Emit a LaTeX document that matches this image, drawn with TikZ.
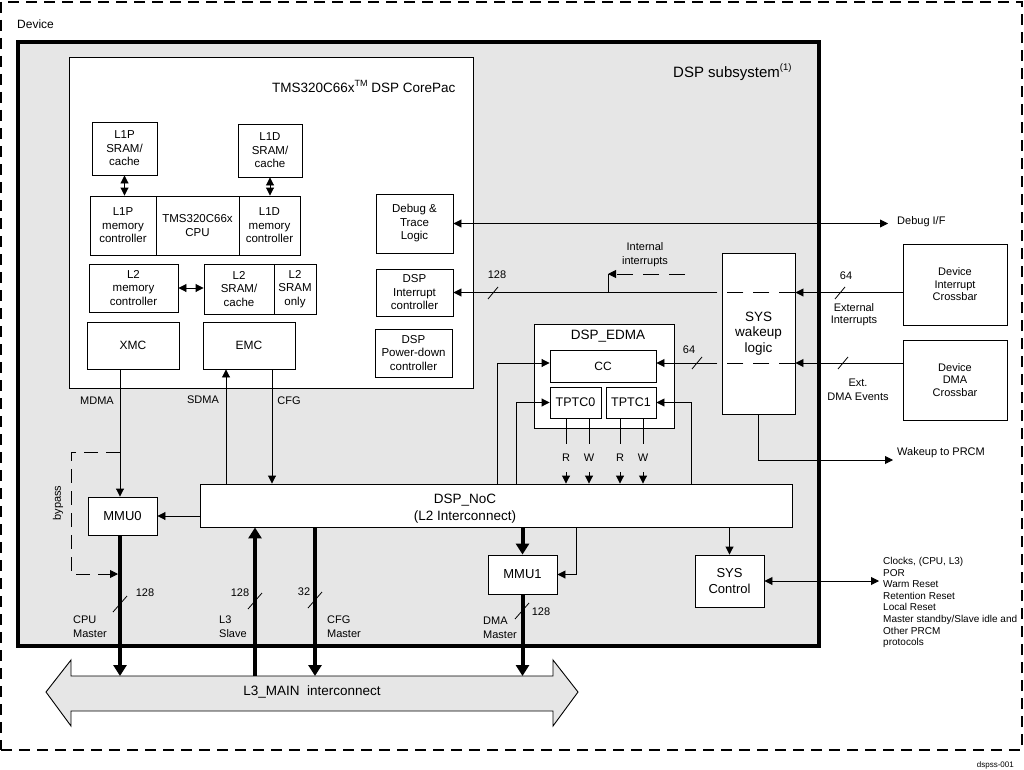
\documentclass[tikz,border=0pt]{standalone}
\usepackage{fontspec}
\setmainfont{Liberation Sans}
\usetikzlibrary{arrows.meta}
\definecolor{bggray}{RGB}{230,230,230}
\newcommand{\fz}[2]{\fontsize{#1}{#2}\selectfont}
\begin{document}
\begin{tikzpicture}[x=1pt,y=-1pt,
  box/.style={draw, fill=white, line width=0.9pt, inner sep=1pt, align=center, font=\fz{11.5}{13.5}},
  lbl/.style={inner sep=0pt, font=\fz{11}{13.5}},
  arr/.style={line width=0.9pt, -{Triangle[length=8pt,width=8pt]}},
  darr/.style={line width=0.9pt, {Triangle[length=8pt,width=8pt]}-{Triangle[length=8pt,width=8pt]}},
  ln/.style={line width=0.9pt},
  bus/.style={line width=4pt, -{Triangle[length=11pt,width=13pt]}},
  slash/.style={line width=0.8pt},
  ldash/.style={dash pattern=on 16pt off 10pt},
  sz/.style 2 args={minimum width=#1pt, minimum height=#2pt},
]
\useasboundingbox (0,0) rectangle (1024,770);
% frames
\node[draw, dash pattern=on 11pt off 7pt, line width=1.2pt, sz={1021}{748}, inner sep=0] (device) at (511.5,376) {};
\node[draw, line width=4pt, fill=bggray, sz={801}{604}, inner sep=0] (dsp) at (418.5,344) {};
\node[anchor=west, inner sep=0, font=\fz{12}{14}] (devlbl) at (17,24) {Device};
\node[anchor=west, inner sep=0, font=\fz{15}{17}] (dsplbl) at (673,72) {DSP subsystem\raisebox{7pt}{\fz{9.5}{10}(1)}};
\node[draw, fill=white, line width=0.9pt, sz={404}{331}, inner sep=0] (corepac) at (271,222.5) {};
\node[anchor=west, inner sep=0, font=\fz{13.5}{15}] (cptitle) at (272,86) {TMS320C66x\raisebox{6pt}{\fz{9}{9}TM} DSP CorePac};
% CorePac content
\node[box, sz={65}{53}] (l1ps) at (124.5,148.5) {L1P\\SRAM/\\cache};
\node[box, sz={64}{53}] (l1ds) at (270,150.5) {L1D\\SRAM/\\cache};
\node[box, sz={66}{59}] (l1pm) at (123,225.5) {L1P\\memory\\controller};
\node[box, sz={83}{59}] (cpu) at (197.5,225.5) {TMS320C66x\\CPU};
\node[box, sz={61}{59}] (l1dm) at (269.5,225.5) {L1D\\memory\\controller};
\node[box, sz={77}{59}] (dbg) at (414.5,223.5) {Debug \&\\Trace\\Logic};
\node[box, sz={89}{48}] (l2m) at (133.5,288) {L2\\memory\\controller};
\node[box, sz={70}{50}] (l2s) at (239,289) {L2\\SRAM/\\cache};
\node[box, sz={42}{50}] (l2o) at (295,289) {L2\\SRAM\\only};
\node[box, sz={77}{47}] (dic) at (414.5,292.5) {DSP\\Interrupt\\controller};
\node[box, sz={77}{48}] (dpd) at (413.5,353) {DSP\\Power-down\\controller};
\node[box, sz={92}{47}, font=\fz{12}{14}] (xmc) at (133,345.5) {XMC};
\node[box, sz={92}{47}, font=\fz{12}{14}] (emc) at (249,345.5) {EMC};
% lower blocks
\node[box, sz={69}{38}, font=\fz{13}{15}] (mmu0) at (122.5,516) {MMU0};
\node[box, sz={592}{43}] (noc) at (496,505.5) {};
\node[align=center, inner sep=0, font=\fz{13.5}{17}] (noctext) at (465,508.5) {DSP\_NoC\\(L2 Interconnect)};
\node[box, sz={69}{39}, font=\fz{13}{15}] (mmu1) at (522.5,574.5) {MMU1};
\node[box, sz={69}{52}, font=\fz{13}{16}] (sysc) at (729.5,581) {SYS\\Control};
\node[box, sz={140}{104}] (edma) at (604,376) {};
\node[inner sep=0, font=\fz{13.5}{15}] (edmat) at (608,336) {DSP\_EDMA};
\node[box, sz={106}{32}, font=\fz{12}{14}] (cc) at (603,366) {CC};
\node[box, sz={51}{31}, font=\fz{12.5}{14}] (tp0) at (575.5,402.5) {TPTC0};
\node[box, sz={50}{31}, font=\fz{12.5}{14}] (tp1) at (631,402.5) {TPTC1};
\node[box, sz={73}{161}, font=\fz{13.5}{15.5}] (wake) at (758.5,333.5) {SYS\\wakeup\\logic};
\node[box, sz={104}{81}, font=\fz{11}{12.5}] (dix) at (955,284.5) {Device\\Interrupt\\Crossbar};
\node[box, sz={104}{80}, font=\fz{11}{12.5}] (ddx) at (955,380) {Device\\DMA\\Crossbar};
% L3 main
\draw[fill=bggray, line width=0.9pt] (46,692) -- (71,660) -- (71,676) -- (553,676) -- (553,660) -- (578,692) -- (553,726) -- (553,711) -- (71,711) -- (71,726) -- cycle;
\node[inner sep=0, font=\fz{13.5}{15}] (l3main) at (312,692) {L3\_MAIN\ \ interconnect};
\coordinate (l3top) at (0,676);
% labels
\node[lbl] (l128a) at (497,275) {128};
\node[lbl, align=center] (intint) at (645,254.5) {Internal\\interrupts};
\node[lbl] (l64a) at (846,276) {64};
\node[lbl, align=center, font=\fz{11}{12}] (extint) at (854,315) {External\\Interrupts};
\node[lbl] (l64b) at (689,350) {64};
\node[lbl, align=center, font=\fz{11}{14}] (extdma) at (858,390) {Ext.\\DMA Events};
\node[lbl, anchor=west] (diflbl) at (897,222) {Debug I/F};
\node[lbl, anchor=west] (wklbl) at (897,453) {Wakeup to PRCM};
\node[lbl] (mdma) at (97,401) {MDMA};
\node[lbl] (sdma) at (203,400) {SDMA};
\node[lbl] (cfg) at (289,401) {CFG};
\node[lbl, rotate=90] (bypass) at (58,503) {bypass};
\node[lbl] (l128b) at (145,593) {128};
\node[lbl, align=left, anchor=west, font=\fz{11}{14}] (cpum) at (73,627) {CPU\\Master};
\node[lbl] (l128c) at (240,593) {128};
\node[lbl, align=left, anchor=west, font=\fz{11}{14}] (l3s) at (219,627) {L3\\Slave};
\node[lbl] (l32) at (304,592) {32};
\node[lbl, align=left, anchor=west, font=\fz{11}{14}] (cfgm) at (327,627) {CFG\\Master};
\node[lbl] (l128d) at (541,612) {128};
\node[lbl, align=left, anchor=west, font=\fz{11}{14}] (dmam) at (483,628) {DMA\\Master};
\node[anchor=north west, inner sep=0, align=left, font=\fz{10}{11.6}] (prcm) at (883,557) {Clocks, (CPU, L3)\\POR\\Warm Reset\\Retention Reset\\Local Reset\\Master standby/Slave idle and\\Other PRCM\\protocols};
\node[anchor=east, inner sep=0, font=\fz{8}{9}] (fig) at (1014,765) {dspss-001};
\node[lbl, minimum height=28pt] (r0) at (566,458) {R};
\node[lbl, minimum height=28pt] (w0) at (589,458) {W};
\node[lbl, minimum height=28pt] (r1) at (620,458) {R};
\node[lbl, minimum height=28pt] (w1) at (643,458) {W};
% coordinates
\coordinate (dif) at (888,0);
\coordinate (ib) at (701,292.5);
\coordinate (ii) at (608,274);
\coordinate (iistart) at (685,274);
\coordinate (dmaev) at (703,363);
\coordinate (ea) at (497,0);
\coordinate (eb) at (516,0);
\coordinate (ec) at (691,0);
\coordinate (xc) at (120,0);
\coordinate (xs) at (255,0);
\coordinate (xf) at (315,0);
\coordinate (xd) at (522.5,0);
\coordinate (xsd) at (226,0);
\coordinate (xcf) at (272,0);
\coordinate (mx) at (576,0);
\coordinate (prc) at (879,0);
\coordinate (wk) at (893,460);
\coordinate (bp1) at (120,452);
\coordinate (bp2) at (118,574);
\coordinate (bpx) at (71,0);
% connectors in CorePac
\draw[darr] (l1ps.south) -- (l1ps.south |- l1pm.north);
\draw[darr] (l1ds.south) -- (l1ds.south |- l1dm.north);
\draw[darr] (l2m.east) -- (l2m.east -| l2s.west);
\draw[darr] (dbg.east) -- (dbg.east -| dif);
% interrupts
\draw[arr] (dix.west |- dic.east) -- (wake.east |- dic.east);
\draw[ln, ldash] (wake.east |- dic.east) -- (ib);
\draw[arr] (ib) -- (dic.east);
\draw[ln] (ii |- dic.east) -- (ii);
\draw[arr, ldash] (iistart) -- (ii);
% DMA events
\draw[arr] (ddx.west |- dmaev) -- (wake.east |- dmaev);
\draw[ln, ldash] (wake.east |- dmaev) -- (dmaev);
\draw[arr] (dmaev) -- (dmaev -| cc.east);
% NoC to EDMA
\draw[arr] (noc.north -| ea) |- (dmaev -| cc.west);
\draw[arr] (noc.north -| eb) |- (tp0.west);
\draw[arr] (noc.north -| ec) |- (tp1.east);
\foreach \n/\t in {r0/tp0, w0/tp0, r1/tp1, w1/tp1} {
  \draw[ln] (\t.south -| \n) -- (\n.north);
  \draw[arr] (\n.south) -- (\n |- noc.north);
}
% CorePac to NoC
\draw[arr] (xmc.south -| xc) -- (mmu0.north -| xc);
\draw[arr, dash pattern=on 14pt off 8pt] (bp1) -- (bp1 -| bpx) -- (bp2 -| bpx) -- (bp2);
\draw[arr] (noc.west |- mmu0.east) -- (mmu0.east);
\draw[arr] (noc.north -| xsd) -- (emc.south -| xsd);
\draw[arr] (emc.south -| xcf) -- (noc.north -| xcf);
% buses
\draw[bus] (mmu0.south -| xc) -- (l3top -| xc);
\draw[bus] (l3top -| xs) -- (noc.south -| xs);
\draw[bus] (noc.south -| xf) -- (l3top -| xf);
\draw[bus] (noc.south -| xd) -- (mmu1.north -| xd);
\draw[bus] (mmu1.south -| xd) -- (l3top -| xd);
\draw[arr] (noc.south -| mx) |- (mmu1.east);
\draw[arr] (sysc.north |- noc.south) -- (sysc.north);
\draw[darr] (sysc.east) -- (sysc.east -| prc);
\draw[arr] (wake.south) |- (wk);
% width slashes
\foreach \p in {(493,293),(697,363),(840,293),(843,363)} {
  \draw[slash] \p ++(-5,6) -- ++(10,-12);
}
\foreach \p in {(120,604),(255,601),(315,600),(522,611)} {
  \draw[slash] \p ++(-7,8) -- ++(14,-16);
}
\end{tikzpicture}
\end{document}
